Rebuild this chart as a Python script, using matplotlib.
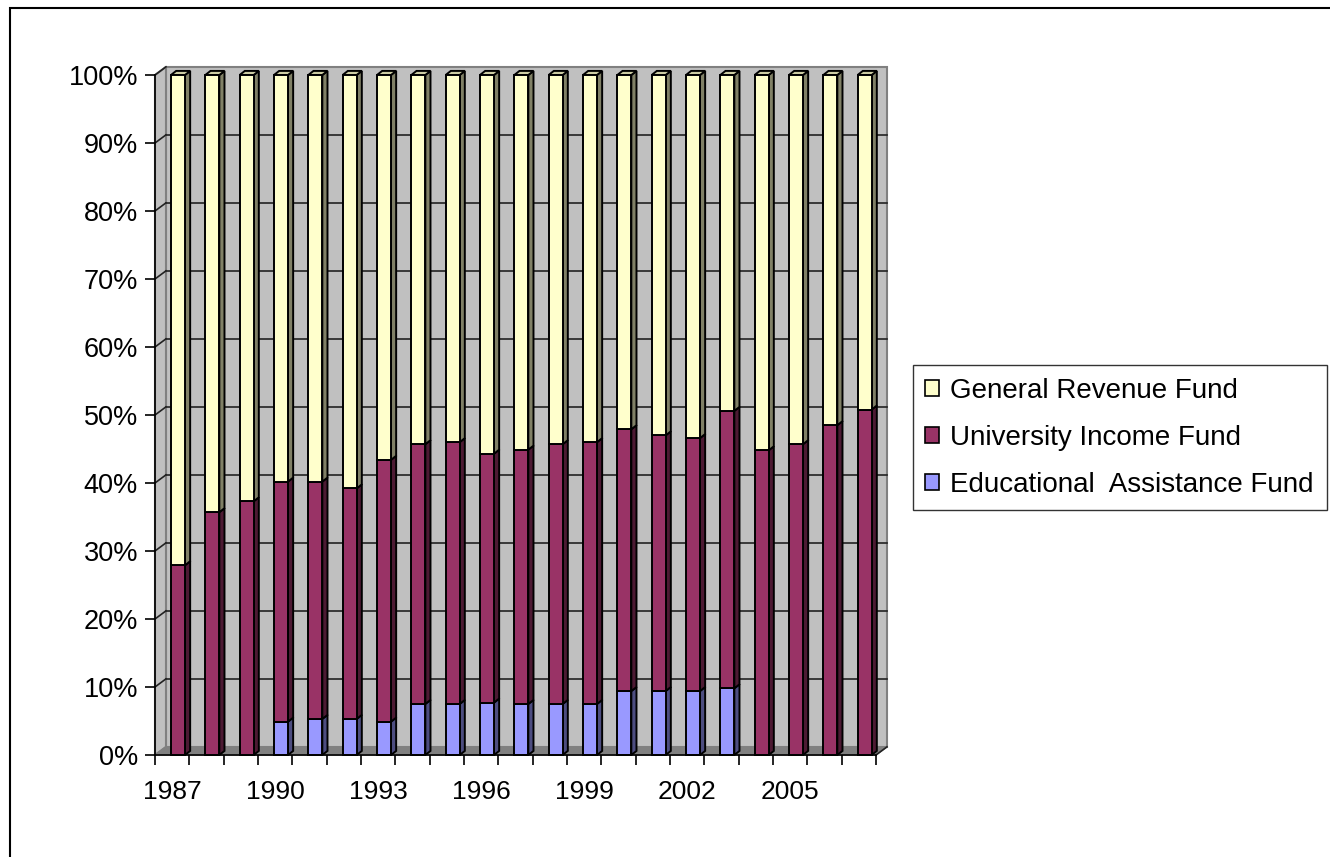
import numpy as np
import matplotlib
matplotlib.use('Agg')
import matplotlib.pyplot as plt
from matplotlib.patches import Polygon, Patch, Rectangle

plt.rcParams['font.family'] = ['Liberation Sans', 'DejaVu Sans']

# share of funding by source, percent of total per year
years = list(range(1987, 2008))
educational = [0, 0, 0, 4.9, 5.3, 5.3, 4.9, 7.5, 7.5, 7.7, 7.5,
               7.5, 7.5, 9.4, 9.4, 9.4, 9.8, 0, 0, 0, 0]
university = [27.9, 35.7, 37.3, 35.3, 34.9, 33.9, 38.5, 38.2, 38.5, 36.6, 37.4,
              38.2, 38.5, 38.5, 37.6, 37.2, 40.8, 44.8, 45.7, 48.5, 50.8]
general = [72.1, 64.3, 62.7, 59.8, 59.8, 60.8, 56.6, 54.3, 54.0, 55.7, 55.1,
           54.3, 54.0, 52.1, 53.0, 53.4, 49.4, 55.2, 54.3, 51.5, 49.2]
series_names = ['Educational  Assistance Fund', 'University Income Fund', 'General Revenue Fund']

front = ['#9999FF', '#993366', '#FFFFCC']
side = ['#4D4D80', '#4D1A33', '#808066']
top_col = '#CCCCA3'

n = len(years)
dx, dy = 0.32, 1.2          # depth of the walls
bdx, bdy = 0.15, 0.6        # depth of each column
x_off, width = 0.466, 0.408

fig = plt.figure(figsize=(13.3, 8.57), dpi=100)
ax = fig.add_axes([155/1330, 102/857, 721/1330, 680/857])
ax.set_xlim(0, n)
ax.set_ylim(0, 100)
ax.set_facecolor('none')

# walls and floor
ax.add_patch(Polygon([(dx, dy), (n+dx, dy), (n+dx, 100+dy), (dx, 100+dy)],
                     closed=True, fc='#C0C0C0', ec='#808080', lw=1.5, clip_on=False, zorder=0))
ax.add_patch(Polygon([(0, 0), (dx, dy), (dx, 100+dy), (0, 100)],
                     closed=True, fc='#C0C0C0', ec='#808080', lw=1.5, clip_on=False, zorder=0))
ax.add_patch(Polygon([(0, 0), (n, 0), (n+dx, dy), (dx, dy)],
                     closed=True, fc='#808080', ec='#808080', lw=1, clip_on=False, zorder=0.5))

for v in range(10, 100, 10):
    ax.plot([dx, n+dx], [v+dy, v+dy], color='#222222', lw=1.2, zorder=0.6, clip_on=False)
    ax.plot([0, dx], [v, v+dy], color='#222222', lw=1.2, zorder=0.6, clip_on=False)
ax.plot([0, dx], [100, 100+dy], color='#222222', lw=1.2, zorder=0.6, clip_on=False)
ax.plot([n, n+dx], [0, dy], color='#222222', lw=1.2, zorder=0.6, clip_on=False)

# stacked columns with side and top faces
xs = np.arange(n) + x_off
bottom = np.zeros(n)
for i, vals in enumerate([educational, university, general]):
    vals = np.array(vals)
    for k in range(n):
        if vals[k] <= 0:
            continue
        x1 = xs[k] + width
        y0, y1 = bottom[k], bottom[k] + vals[k]
        ax.add_patch(Polygon([(x1, y0), (x1+bdx, y0+bdy), (x1+bdx, y1+bdy), (x1, y1)],
                             closed=True, fc=side[i], ec='black', lw=1.4, clip_on=False, zorder=2))
        if i == 2:
            ax.add_patch(Polygon([(xs[k], y1), (xs[k]+bdx, y1+bdy), (x1+bdx, y1+bdy), (x1, y1)],
                                 closed=True, fc=top_col, ec='black', lw=1.4, clip_on=False, zorder=2))
    ax.bar(xs, vals, width=width, bottom=bottom, align='edge', color=front[i],
           edgecolor='black', linewidth=1.4, zorder=3, clip_on=False)
    bottom += vals

# axes styling
for s in ['top', 'right']:
    ax.spines[s].set_visible(False)
for s in ['left', 'bottom']:
    ax.spines[s].set_linewidth(1.2)
    ax.spines[s].set_zorder(4)

ax.set_yticks(range(0, 101, 10))
ax.set_yticklabels([f'{v}%' for v in range(0, 101, 10)], fontsize=19.5)
ax.tick_params(axis='y', length=7.2, width=1.2, pad=5)

ax.set_xticks(np.arange(n) + 0.5)
ax.set_xticklabels([str(y) if (y - 1987) % 3 == 0 else '' for y in years], fontsize=19)
ax.set_xticks(np.arange(n + 1), minor=True)
ax.tick_params(axis='x', which='major', length=0, pad=18)
ax.tick_params(axis='x', which='minor', length=7.2, width=1.2)

handles = [Patch(fc=front[i], ec='black', lw=1.2) for i in [2, 1, 0]]
labels = [series_names[i] for i in [2, 1, 0]]
leg = fig.legend(handles, labels, loc='upper left', bbox_to_anchor=(913/1330, 1-365/857),
                 borderaxespad=0, fontsize=20, handlelength=0.5, handleheight=0.5,
                 handletextpad=0.4, labelspacing=0.76, borderpad=0.45,
                 frameon=True, fancybox=False, edgecolor='black')
leg.get_frame().set_linewidth(1.0)

# chart area border
fig.patches.append(Rectangle((10/1330, -0.1), 1.2, 1.1 - 8/857, transform=fig.transFigure,
                             fill=False, ec='black', lw=1.5))

fig.savefig('out.png', dpi=100)
